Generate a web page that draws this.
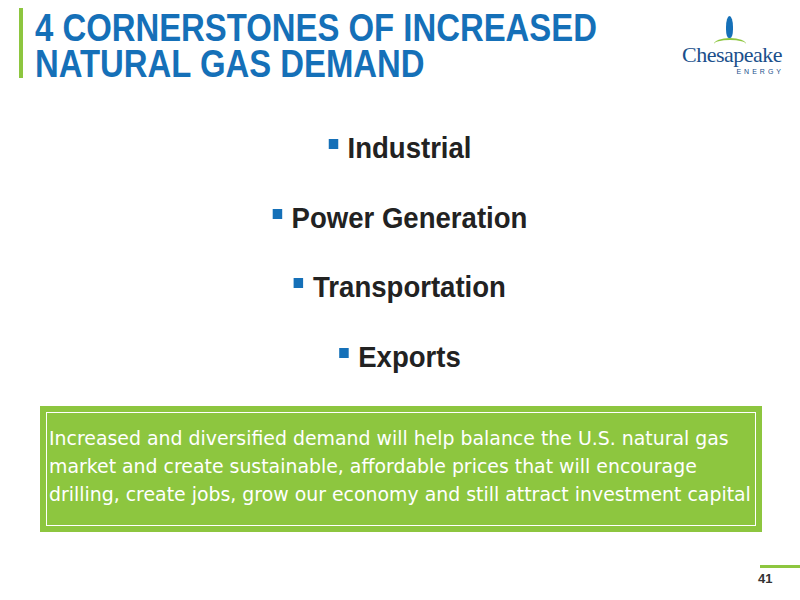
<!DOCTYPE html>
<html>
<head>
<meta charset="utf-8">
<script src="https://cdn.jsdelivr.net/npm/chart.js"></script>
<style>
  body { margin:0; width:800px; height:600px; background:#fff; position:relative; overflow:hidden; font-family:"Liberation Sans", Arial, sans-serif; }
  .bar { position:absolute; left:19px; top:8px; width:4px; height:70px; background:#8dc63f; }
  .title { position:absolute; left:35px; top:10px; color:#1570b8; font-family:"Liberation Sans",sans-serif; font-weight:bold; font-size:38px; line-height:36px; transform:scaleX(0.865); transform-origin:left top; white-space:nowrap; }
  .logo { position:absolute; left:676px; top:14px; width:112px; text-align:center; }
  .logo .name { font-family:"Liberation Serif",serif; color:#1a4f8b; font-size:22px; letter-spacing:-0.5px; margin-top:28px; }
  .logo .sub { font-size:7px; color:#1a4f8b; letter-spacing:3px; text-align:right; padding-right:4px; }
  .flame { position:absolute; left:50px; top:2px; width:7px; height:22px; border-radius:50% 50% 40% 40%; background:#1570b8; }
  .arc { position:absolute; left:38px; top:24px; width:32px; height:10px; border-top:2px solid #8dc63f; border-radius:50%; }
  .bullets { position:absolute; left:0; top:126px; width:800px; text-align:center; }
  .bullets div { font-weight:bold; font-size:29px; color:#222; height:69.5px; line-height:44px; transform:scaleX(0.95); }
  .bullets span.sq { display:inline-block; width:10px; height:10px; background:#1570b8; vertical-align:middle; margin-right:10px; position:relative; top:-6px; }
  .box { position:absolute; left:40px; top:406px; width:722px; height:126px; background:#8dc63f; }
  .inner { position:absolute; left:6px; top:6px; right:6px; bottom:6px; border:1.5px solid #fff; }
  .boxtext { position:absolute; left:9px; top:18px; color:#fff; font-family:"DejaVu Sans",Verdana,sans-serif; font-size:18.9px; line-height:28px; white-space:nowrap; }
  .pline { position:absolute; left:760px; top:565px; width:40px; height:3px; background:#8dc63f; }
  .pnum { position:absolute; left:758px; top:571px; font-size:13px; font-weight:bold; color:#333; }
</style>
</head>
<body>
<div class="bar"></div>
<div class="title">4 CORNERSTONES OF INCREASED<br>NATURAL GAS DEMAND</div>
<div class="logo"><div class="flame"></div><div class="arc"></div><div class="name">Chesapeake</div><div class="sub">ENERGY</div></div>
<div class="bullets" id="bullets"></div>
<div class="box"><div class="inner"></div><div class="boxtext" id="boxtext"></div></div>
<div class="pline"></div>
<div class="pnum">41</div>
<script>
const cornerstones = ['Industrial', 'Power Generation', 'Transportation', 'Exports'];
const boxLines = [
  'Increased and diversified demand will help balance the U.S. natural gas',
  'market and create sustainable, affordable prices that will encourage',
  'drilling, create jobs, grow our economy and still attract investment capital'
];
const b = document.getElementById('bullets');
cornerstones.forEach(c => {
  const d = document.createElement('div');
  d.innerHTML = '<span class="sq"></span>' + c;
  b.appendChild(d);
});
document.getElementById('boxtext').innerHTML = boxLines.join('<br>');
</script>
</body>
</html>
